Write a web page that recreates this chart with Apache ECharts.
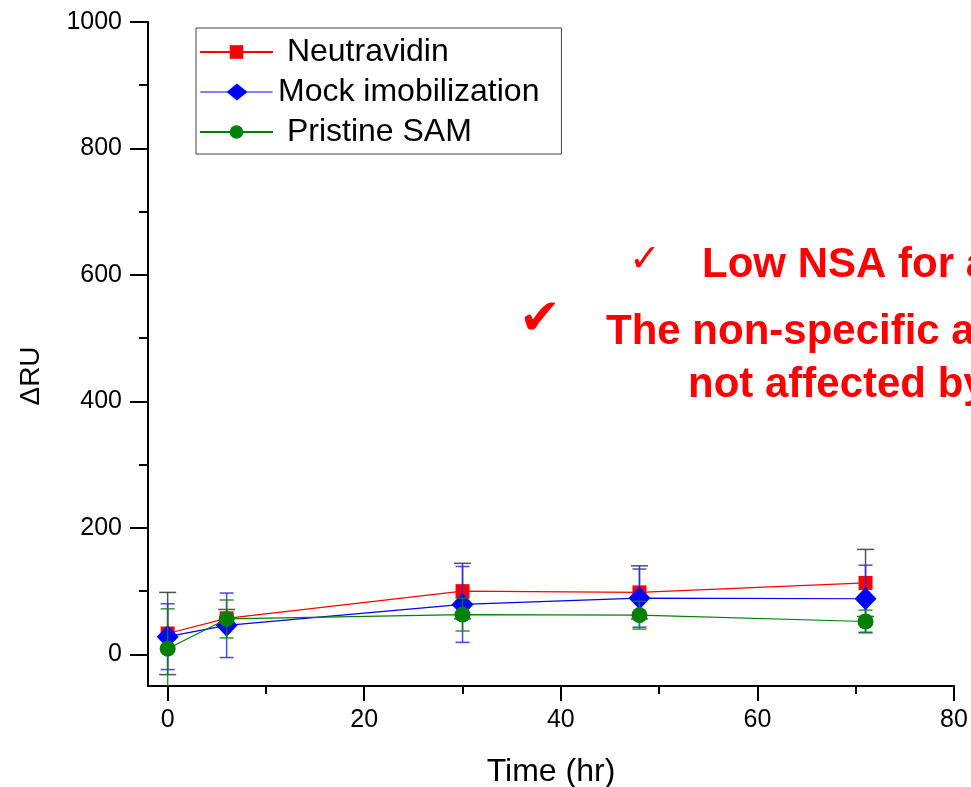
<!DOCTYPE html>
<html>
<head>
<meta charset="utf-8">
<script src="https://cdn.jsdelivr.net/npm/echarts@6/dist/echarts.min.js"></script>
<style>
html,body{margin:0;padding:0;background:#fff;}
#chart{width:971px;height:787px;}
</style>
</head>
<body>
<div id="chart"></div>
<script>
// ---- data ----
var seriesNames = ['Neutravidin', 'Mock imobilization', 'Pristine SAM'];
var timeHr = [0, 6, 30, 48, 71];
var neutravidin = [33, 57, 100, 98, 113];
var neutravidinErr = [65, 14, 44, 42, 53];
var mockImmob = [28, 46, 79, 89, 88];
var mockImmobErr = [52, 51, 60, 46, 53];
var pristineSAM = [9, 56, 63, 62, 52];
var pristineSAMErr = [63, 30, 26, 22, 18];
var yMajorTicks = [0, 200, 400, 600, 800, 1000];
var yMinorTicks = [100, 300, 500, 700, 900];
var xMajorTicks = [0, 20, 40, 60, 80];
var xMinorTicks = [10, 30, 50, 70];
var noteLines = ['Low NSA for a', 'The non-specific a', 'not affected by'];

var FONT = '"Liberation Sans", Arial, sans-serif';

function pts(vals) { return timeHr.map(function (t, i) { return [t, vals[i]]; }); }
function errs(vals, e) { return timeHr.map(function (t, i) { return [t, vals[i] - e[i], vals[i] + e[i]]; }); }

function errRender(color, capW) {
  return function (params, api) {
    var lo = api.coord([api.value(0), api.value(1)]);
    var hi = api.coord([api.value(0), api.value(2)]);
    var st = { stroke: color, lineWidth: 1.5, fill: null };
    var h = capW / 2;
    return {
      type: 'group',
      children: [
        { type: 'line', shape: { x1: lo[0], y1: lo[1], x2: hi[0], y2: hi[1] }, style: st },
        { type: 'line', shape: { x1: hi[0] - h, y1: hi[1], x2: hi[0] + h, y2: hi[1] }, style: st },
        { type: 'line', shape: { x1: lo[0] - h, y1: lo[1], x2: lo[0] + h, y2: lo[1] }, style: st }
      ]
    };
  };
}

var axisLineStyle = { color: '#000', width: 2 };
function plain(v) { return String(v); }

// legend icon for the diamond series: thin line with a large diamond
var diamondLegendIcon = 'path://M0,8 L27,8 L37,0 L47,8 L73,8 L73,9.2 L47,9.2 L37,17.2 L27,9.2 L0,9.2 Z';

var chart = echarts.init(document.getElementById('chart'), null, { renderer: 'canvas' });
chart.setOption({
  backgroundColor: '#ffffff',
  animation: false,
  grid: { left: 148, right: 17, top: 22, bottom: 101, containLabel: false },
  legend: {
    orient: 'vertical',
    left: 196, top: 28,
    padding: [8, 22, 6, 3],
    itemWidth: 73, itemHeight: 17, itemGap: 8,
    borderColor: '#444', borderWidth: 1,
    backgroundColor: '#fff',
    data: [
      { name: seriesNames[0] },
      { name: seriesNames[1], icon: diamondLegendIcon },
      { name: seriesNames[2] }
    ],
    formatter: function (n) { return n === 'Mock imobilization' ? n : ' ' + n; },
    textStyle: { fontFamily: FONT, fontSize: 32, color: '#000' }
  },
  xAxis: [{
    type: 'value', min: -2, max: 80, position: 'bottom',
    axisLine: { show: true, onZero: false, lineStyle: axisLineStyle },
    axisTick: { show: true, inside: false, length: 15, customValues: xMajorTicks, lineStyle: axisLineStyle },
    axisLabel: { customValues: xMajorTicks, formatter: plain, fontFamily: FONT, fontSize: 25, color: '#000', margin: 22 },
    splitLine: { show: false }
  }, {
    type: 'value', min: -2, max: 80, position: 'bottom',
    axisLine: { show: false, onZero: false },
    axisTick: { show: true, inside: false, length: 8, customValues: xMinorTicks, lineStyle: axisLineStyle },
    axisLabel: { show: false },
    splitLine: { show: false }
  }],
  yAxis: [{
    type: 'value', min: -50, max: 1000, position: 'left',
    axisLine: { show: true, onZero: false, lineStyle: axisLineStyle },
    axisTick: { show: true, inside: false, length: 18, customValues: yMajorTicks, lineStyle: axisLineStyle },
    axisLabel: { customValues: yMajorTicks, formatter: plain, fontFamily: FONT, fontSize: 25, color: '#000', margin: 26 },
    splitLine: { show: false }
  }, {
    type: 'value', min: -50, max: 1000, position: 'left',
    axisLine: { show: false, onZero: false },
    axisTick: { show: true, inside: false, length: 9, customValues: yMinorTicks, lineStyle: axisLineStyle },
    axisLabel: { show: false },
    splitLine: { show: false }
  }],
  series: [
    { type: 'custom', name: 'errN', data: errs(neutravidin, neutravidinErr), renderItem: errRender('rgba(40,40,40,0.8)', 17), clip: true, z: 2, silent: true },
    { type: 'line', name: seriesNames[0], data: pts(neutravidin), symbol: 'rect', symbolSize: 14,
      itemStyle: { color: '#ff0000' }, lineStyle: { color: '#ff0000', width: 1.2 }, z: 3 },
    { type: 'custom', name: 'errM', data: errs(mockImmob, mockImmobErr), renderItem: errRender('rgba(40,40,255,0.85)', 14), clip: true, z: 4, silent: true },
    { type: 'line', name: seriesNames[1], data: pts(mockImmob), symbol: 'diamond', symbolSize: [22, 23],
      itemStyle: { color: '#0000ff' }, lineStyle: { color: '#0000ff', width: 1.2 }, z: 5 },
    { type: 'custom', name: 'errP', data: errs(pristineSAM, pristineSAMErr), renderItem: errRender('rgba(20,130,20,0.85)', 14), clip: true, z: 6, silent: true },
    { type: 'line', name: seriesNames[2], data: pts(pristineSAM), symbol: 'circle', symbolSize: 16,
      itemStyle: { color: '#008000' }, lineStyle: { color: '#008000', width: 1.2 }, z: 7 }
  ],
  graphic: [
    { type: 'text', style: { text: 'Time (hr)', x: 551, y: 772, align: 'center', verticalAlign: 'middle', font: '32px ' + FONT, fill: '#000' } },
    { type: 'text', rotation: Math.PI / 2, x: 31, y: 376, style: { text: '\u0394RU', x: 0, y: 0, align: 'center', verticalAlign: 'middle', font: '28px ' + FONT, fill: '#000' } },
    { type: 'text', style: { text: '\u2713', x: 645, y: 261, align: 'center', verticalAlign: 'middle', font: '38px "DejaVu Sans"', fill: '#ff0000' } },
    { type: 'text', style: { text: '\u2714', x: 540, y: 321, align: 'center', verticalAlign: 'middle', font: '50px "DejaVu Sans"', fill: '#ff0000' } },
    { type: 'text', style: { text: noteLines[0], x: 702, y: 265, align: 'left', verticalAlign: 'middle', font: 'bold 42px ' + FONT, fill: '#ff0000' } },
    { type: 'text', style: { text: noteLines[1], x: 606, y: 332, align: 'left', verticalAlign: 'middle', font: 'bold 42px ' + FONT, fill: '#ff0000' } },
    { type: 'text', style: { text: noteLines[2], x: 688, y: 385, align: 'left', verticalAlign: 'middle', font: 'bold 42px ' + FONT, fill: '#ff0000' } }
  ]
});
</script>
</body>
</html>
